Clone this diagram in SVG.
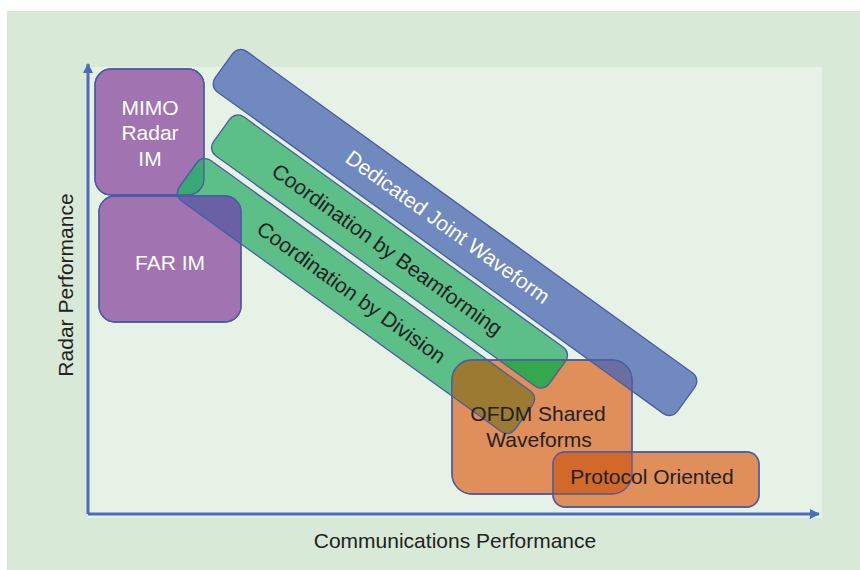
<svg xmlns="http://www.w3.org/2000/svg" xmlns:xlink="http://www.w3.org/1999/xlink" width="860" height="570" viewBox="0 0 860 570">
<style>
text{font-family:"Liberation Sans",Arial,sans-serif;font-size:21px}
.lbl{fill:#222}
.wht{fill:#fff}
.ol{stroke:#4a5ca2;stroke-width:1.3}
.purple{fill:#a173b1}
.blue{fill:#7089bf}
.green{fill:#5bbf87}
.orange{fill:#e08e5a}
.none{fill:none}
.axis{stroke:#4a6cc0;stroke-width:3;fill:none}
</style>
<defs>
<marker id="ah" viewBox="0 0 10 10" refX="9" refY="5" markerWidth="10" markerHeight="10" markerUnits="userSpaceOnUse" orient="auto">
<path d="M0,0 L10,5 L0,10 z" fill="#4a6cc0"/>
</marker>
<rect id="s-mimo" x="95" y="69" width="109" height="126" rx="16"/>
<rect id="s-far" x="99" y="196" width="142" height="126" rx="16"/>
<rect id="s-blue" transform="translate(455,232.5) rotate(35.8)" x="-285" y="-25" width="570" height="50" rx="10"/>
<rect id="s-g1" transform="translate(389.5,251.5) rotate(35.8)" x="-207" y="-24" width="414" height="48" rx="10"/>
<rect id="s-g2" transform="translate(356,296) rotate(35.8)" x="-207" y="-25" width="414" height="50" rx="10"/>
<rect id="s-ofdm" x="452" y="360" width="180" height="134" rx="20"/>
<rect id="s-proto" x="553" y="452" width="206" height="55" rx="12"/>
<clipPath id="c-mimo"><use xlink:href="#s-mimo"/></clipPath>
<clipPath id="c-far"><use xlink:href="#s-far"/></clipPath>
<clipPath id="c-ofdm"><use xlink:href="#s-ofdm"/></clipPath>
<clipPath id="c-proto"><use xlink:href="#s-proto"/></clipPath>
</defs>
<rect x="7" y="11" width="853" height="559" fill="#d9e9d7"/>
<rect x="88" y="67" width="734" height="451" fill="#e7f2e7"/>
<g id="connectors">
<line class="axis" x1="88" y1="514" x2="88" y2="64" marker-end="url(#ah)"/>
<line class="axis" x1="88" y1="514" x2="819" y2="514" marker-end="url(#ah)"/>
</g>
<text class="lbl" x="455" y="548" text-anchor="middle">Communications Performance</text>
<text class="lbl" transform="translate(73,285) rotate(-90)" text-anchor="middle">Radar Performance</text>
<g id="mimo-radar-im">
<use xlink:href="#s-mimo" class="purple ol"/>
<text class="wht" x="150" y="115" text-anchor="middle">MIMO</text>
<text class="wht" x="150" y="140" text-anchor="middle">Radar</text>
<text class="wht" x="150" y="166" text-anchor="middle">IM</text>
</g>
<g id="coordination-by-division">
<use xlink:href="#s-g2" class="green ol"/>
<g clip-path="url(#c-mimo)"><use xlink:href="#s-g2" fill="#3aa777" class="ol"/></g>
<use xlink:href="#s-mimo" class="none ol"/>
<text class="lbl" transform="translate(356,296) rotate(35.8)" x="-6" y="7" text-anchor="middle">Coordination by Division</text>
</g>
<g id="far-im">
<use xlink:href="#s-far" class="purple ol"/>
<g clip-path="url(#c-far)"><use xlink:href="#s-g2" fill="#6a60a6" class="ol"/></g>
<use xlink:href="#s-far" class="none ol"/>
<text class="wht" x="170" y="270" text-anchor="middle">FAR IM</text>
</g>
<g id="dedicated-joint-waveform">
<use xlink:href="#s-blue" class="blue ol"/>
<text class="wht" transform="translate(455,232.5) rotate(35.8)" x="-9" y="7" text-anchor="middle">Dedicated Joint Waveform</text>
</g>
<g id="coordination-by-beamforming">
<use xlink:href="#s-g1" class="green ol"/>
<text class="lbl" transform="translate(389.5,251.5) rotate(35.8)" x="-3" y="7" text-anchor="middle">Coordination by Beamforming</text>
</g>
<g id="ofdm-shared-waveforms">
<use xlink:href="#s-ofdm" class="orange ol"/>
<g clip-path="url(#c-ofdm)">
<use xlink:href="#s-g2" fill="#9b7b32" class="ol"/>
<use xlink:href="#s-g1" fill="#35a74f" class="ol"/>
<use xlink:href="#s-blue" fill="#6a6f9f" class="ol"/>
</g>
<use xlink:href="#s-ofdm" class="none ol"/>
<text class="lbl" x="538" y="421" text-anchor="middle">OFDM Shared</text>
<text class="lbl" x="539" y="447" text-anchor="middle">Waveforms</text>
</g>
<g id="protocol-oriented">
<use xlink:href="#s-proto" class="orange ol"/>
<g clip-path="url(#c-proto)"><use xlink:href="#s-ofdm" fill="#d2682a" class="ol"/></g>
<use xlink:href="#s-proto" class="none ol"/>
<text class="lbl" x="652" y="484" text-anchor="middle">Protocol Oriented</text>
</g>
</svg>
